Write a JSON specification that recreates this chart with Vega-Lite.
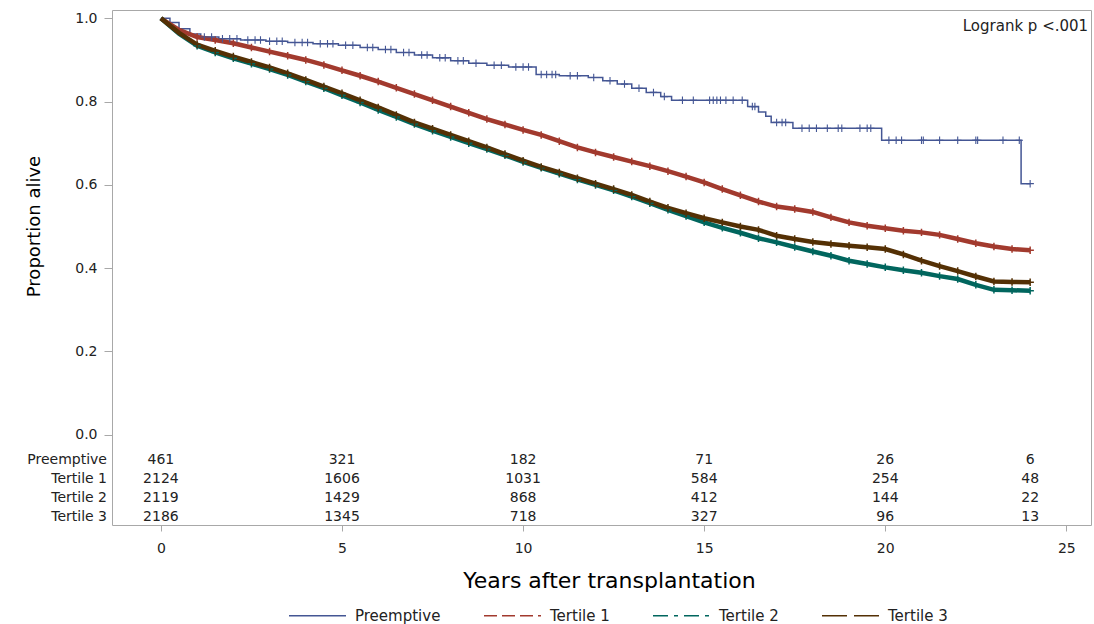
{
  "$schema": "https://vega.github.io/schema/vega-lite/v6.json",
  "autosize": {"type": "none"},
  "width": 979,
  "height": 515,
  "padding": {"left": 112, "top": 10, "right": 3, "bottom": 99},
  "background": "white",
  "config": {
    "font": "DejaVu Sans",
    "view": {"stroke": "#a8a8a8", "strokeWidth": 1},
    "axis": {"domain": false, "grid": false, "tickColor": "#a8a8a8", "labelColor": "#222", "labelFontSize": 14, "titleColor": "#000", "titleFontWeight": "normal"},
    "legend": {"labelFontSize": 15, "labelColor": "#222", "padding": 0, "orient": "none", "legendX": 176, "legendY": 576, "direction": "horizontal"}
  },
  "datasets": {
    "km": [
      {"group":"Preemptive","t":0,"s":1.0},{"group":"Preemptive","t":0.25,"s":0.99},{"group":"Preemptive","t":0.5,"s":0.975},{"group":"Preemptive","t":0.8,"s":0.962},
      {"group":"Preemptive","t":1.1,"s":0.955},{"group":"Preemptive","t":1.6,"s":0.951},{"group":"Preemptive","t":2.2,"s":0.948},{"group":"Preemptive","t":2.9,"s":0.945},
      {"group":"Preemptive","t":3.5,"s":0.942},{"group":"Preemptive","t":4.2,"s":0.939},{"group":"Preemptive","t":4.9,"s":0.935},{"group":"Preemptive","t":5.5,"s":0.93},
      {"group":"Preemptive","t":6.0,"s":0.925},{"group":"Preemptive","t":6.5,"s":0.918},{"group":"Preemptive","t":7.0,"s":0.912},{"group":"Preemptive","t":7.5,"s":0.905},
      {"group":"Preemptive","t":8.0,"s":0.898},{"group":"Preemptive","t":8.5,"s":0.892},{"group":"Preemptive","t":9.0,"s":0.887},{"group":"Preemptive","t":9.6,"s":0.883},
      {"group":"Preemptive","t":10.36,"s":0.865},{"group":"Preemptive","t":11.0,"s":0.862},{"group":"Preemptive","t":11.8,"s":0.858},{"group":"Preemptive","t":12.2,"s":0.85},
      {"group":"Preemptive","t":12.6,"s":0.842},{"group":"Preemptive","t":13.0,"s":0.832},{"group":"Preemptive","t":13.4,"s":0.822},{"group":"Preemptive","t":13.8,"s":0.812},
      {"group":"Preemptive","t":14.1,"s":0.803},{"group":"Preemptive","t":16.2,"s":0.788},{"group":"Preemptive","t":16.5,"s":0.775},{"group":"Preemptive","t":16.7,"s":0.765},
      {"group":"Preemptive","t":16.85,"s":0.75},{"group":"Preemptive","t":17.45,"s":0.736},{"group":"Preemptive","t":19.9,"s":0.707},{"group":"Preemptive","t":23.75,"s":0.603},
      {"group":"Preemptive","t":24.0,"s":0.603},

      {"group":"Tertile 1","t":0,"s":1.0},{"group":"Tertile 1","t":0.5,"s":0.972},{"group":"Tertile 1","t":1,"s":0.955},{"group":"Tertile 1","t":1.5,"s":0.948},
      {"group":"Tertile 1","t":2,"s":0.94},{"group":"Tertile 1","t":2.5,"s":0.93},{"group":"Tertile 1","t":3,"s":0.92},{"group":"Tertile 1","t":3.5,"s":0.91},
      {"group":"Tertile 1","t":4,"s":0.9},{"group":"Tertile 1","t":4.5,"s":0.888},{"group":"Tertile 1","t":5,"s":0.875},{"group":"Tertile 1","t":5.5,"s":0.862},
      {"group":"Tertile 1","t":6,"s":0.848},{"group":"Tertile 1","t":6.5,"s":0.833},{"group":"Tertile 1","t":7,"s":0.818},{"group":"Tertile 1","t":7.5,"s":0.803},
      {"group":"Tertile 1","t":8,"s":0.788},{"group":"Tertile 1","t":8.5,"s":0.773},{"group":"Tertile 1","t":9,"s":0.758},{"group":"Tertile 1","t":9.5,"s":0.745},
      {"group":"Tertile 1","t":10,"s":0.732},{"group":"Tertile 1","t":10.5,"s":0.72},{"group":"Tertile 1","t":11,"s":0.705},{"group":"Tertile 1","t":11.5,"s":0.69},
      {"group":"Tertile 1","t":12,"s":0.678},{"group":"Tertile 1","t":12.5,"s":0.667},{"group":"Tertile 1","t":13,"s":0.656},{"group":"Tertile 1","t":13.5,"s":0.645},
      {"group":"Tertile 1","t":14,"s":0.633},{"group":"Tertile 1","t":14.5,"s":0.62},{"group":"Tertile 1","t":15,"s":0.606},{"group":"Tertile 1","t":15.5,"s":0.59},
      {"group":"Tertile 1","t":16,"s":0.575},{"group":"Tertile 1","t":16.5,"s":0.56},{"group":"Tertile 1","t":17,"s":0.548},{"group":"Tertile 1","t":17.5,"s":0.542},
      {"group":"Tertile 1","t":18,"s":0.535},{"group":"Tertile 1","t":18.5,"s":0.522},{"group":"Tertile 1","t":19,"s":0.51},{"group":"Tertile 1","t":19.5,"s":0.502},
      {"group":"Tertile 1","t":20,"s":0.496},{"group":"Tertile 1","t":20.5,"s":0.49},{"group":"Tertile 1","t":21,"s":0.486},{"group":"Tertile 1","t":21.5,"s":0.48},
      {"group":"Tertile 1","t":22,"s":0.47},{"group":"Tertile 1","t":22.5,"s":0.46},{"group":"Tertile 1","t":23,"s":0.452},{"group":"Tertile 1","t":23.5,"s":0.446},
      {"group":"Tertile 1","t":24,"s":0.443},

      {"group":"Tertile 2","t":0,"s":1.0},{"group":"Tertile 2","t":0.5,"s":0.963},{"group":"Tertile 2","t":1,"s":0.934},{"group":"Tertile 2","t":1.5,"s":0.918},
      {"group":"Tertile 2","t":2,"s":0.904},{"group":"Tertile 2","t":2.5,"s":0.891},{"group":"Tertile 2","t":3,"s":0.878},{"group":"Tertile 2","t":3.5,"s":0.864},
      {"group":"Tertile 2","t":4,"s":0.848},{"group":"Tertile 2","t":4.5,"s":0.832},{"group":"Tertile 2","t":5,"s":0.815},{"group":"Tertile 2","t":5.5,"s":0.798},
      {"group":"Tertile 2","t":6,"s":0.78},{"group":"Tertile 2","t":6.5,"s":0.763},{"group":"Tertile 2","t":7,"s":0.746},{"group":"Tertile 2","t":7.5,"s":0.73},
      {"group":"Tertile 2","t":8,"s":0.715},{"group":"Tertile 2","t":8.5,"s":0.7},{"group":"Tertile 2","t":9,"s":0.686},{"group":"Tertile 2","t":9.5,"s":0.671},
      {"group":"Tertile 2","t":10,"s":0.655},{"group":"Tertile 2","t":10.5,"s":0.641},{"group":"Tertile 2","t":11,"s":0.627},{"group":"Tertile 2","t":11.5,"s":0.613},
      {"group":"Tertile 2","t":12,"s":0.6},{"group":"Tertile 2","t":12.5,"s":0.587},{"group":"Tertile 2","t":13,"s":0.572},{"group":"Tertile 2","t":13.5,"s":0.556},
      {"group":"Tertile 2","t":14,"s":0.54},{"group":"Tertile 2","t":14.5,"s":0.525},{"group":"Tertile 2","t":15,"s":0.51},{"group":"Tertile 2","t":15.5,"s":0.497},
      {"group":"Tertile 2","t":16,"s":0.485},{"group":"Tertile 2","t":16.5,"s":0.472},{"group":"Tertile 2","t":17,"s":0.462},{"group":"Tertile 2","t":17.5,"s":0.451},
      {"group":"Tertile 2","t":18,"s":0.44},{"group":"Tertile 2","t":18.5,"s":0.43},{"group":"Tertile 2","t":19,"s":0.418},{"group":"Tertile 2","t":19.5,"s":0.41},
      {"group":"Tertile 2","t":20,"s":0.402},{"group":"Tertile 2","t":20.5,"s":0.395},{"group":"Tertile 2","t":21,"s":0.389},{"group":"Tertile 2","t":21.5,"s":0.381},
      {"group":"Tertile 2","t":22,"s":0.374},{"group":"Tertile 2","t":22.5,"s":0.36},{"group":"Tertile 2","t":23,"s":0.348},{"group":"Tertile 2","t":23.5,"s":0.347},
      {"group":"Tertile 2","t":24,"s":0.346},

      {"group":"Tertile 3","t":0,"s":1.0},{"group":"Tertile 3","t":0.5,"s":0.965},{"group":"Tertile 3","t":1,"s":0.937},{"group":"Tertile 3","t":1.5,"s":0.922},
      {"group":"Tertile 3","t":2,"s":0.908},{"group":"Tertile 3","t":2.5,"s":0.895},{"group":"Tertile 3","t":3,"s":0.882},{"group":"Tertile 3","t":3.5,"s":0.868},
      {"group":"Tertile 3","t":4,"s":0.852},{"group":"Tertile 3","t":4.5,"s":0.836},{"group":"Tertile 3","t":5,"s":0.82},{"group":"Tertile 3","t":5.5,"s":0.803},
      {"group":"Tertile 3","t":6,"s":0.786},{"group":"Tertile 3","t":6.5,"s":0.768},{"group":"Tertile 3","t":7,"s":0.75},{"group":"Tertile 3","t":7.5,"s":0.735},
      {"group":"Tertile 3","t":8,"s":0.72},{"group":"Tertile 3","t":8.5,"s":0.705},{"group":"Tertile 3","t":9,"s":0.69},{"group":"Tertile 3","t":9.5,"s":0.674},
      {"group":"Tertile 3","t":10,"s":0.658},{"group":"Tertile 3","t":10.5,"s":0.643},{"group":"Tertile 3","t":11,"s":0.63},{"group":"Tertile 3","t":11.5,"s":0.616},
      {"group":"Tertile 3","t":12,"s":0.603},{"group":"Tertile 3","t":12.5,"s":0.59},{"group":"Tertile 3","t":13,"s":0.576},{"group":"Tertile 3","t":13.5,"s":0.56},
      {"group":"Tertile 3","t":14,"s":0.545},{"group":"Tertile 3","t":14.5,"s":0.532},{"group":"Tertile 3","t":15,"s":0.52},{"group":"Tertile 3","t":15.5,"s":0.51},
      {"group":"Tertile 3","t":16,"s":0.5},{"group":"Tertile 3","t":16.5,"s":0.492},{"group":"Tertile 3","t":17,"s":0.478},{"group":"Tertile 3","t":17.5,"s":0.47},
      {"group":"Tertile 3","t":18,"s":0.463},{"group":"Tertile 3","t":18.5,"s":0.458},{"group":"Tertile 3","t":19,"s":0.454},{"group":"Tertile 3","t":19.5,"s":0.45},
      {"group":"Tertile 3","t":20,"s":0.446},{"group":"Tertile 3","t":20.5,"s":0.433},{"group":"Tertile 3","t":21,"s":0.418},{"group":"Tertile 3","t":21.5,"s":0.405},
      {"group":"Tertile 3","t":22,"s":0.393},{"group":"Tertile 3","t":22.5,"s":0.38},{"group":"Tertile 3","t":23,"s":0.368},{"group":"Tertile 3","t":23.5,"s":0.367},
      {"group":"Tertile 3","t":24,"s":0.366}
    ],
    "censor": [
      {"t":1.2,"s":0.955},{"t":1.4,"s":0.955},{"t":1.7,"s":0.951},{"t":1.9,"s":0.951},{"t":2.1,"s":0.951},{"t":2.4,"s":0.948},{"t":2.6,"s":0.948},{"t":2.75,"s":0.948},
      {"t":3.0,"s":0.945},{"t":3.2,"s":0.945},{"t":3.35,"s":0.945},{"t":3.7,"s":0.942},{"t":3.9,"s":0.942},{"t":4.05,"s":0.942},{"t":4.4,"s":0.939},{"t":4.6,"s":0.939},
      {"t":4.75,"s":0.939},{"t":5.1,"s":0.935},{"t":5.3,"s":0.935},{"t":5.7,"s":0.93},{"t":5.85,"s":0.93},{"t":6.2,"s":0.925},{"t":6.35,"s":0.925},{"t":6.7,"s":0.918},
      {"t":6.85,"s":0.918},{"t":7.2,"s":0.912},{"t":7.35,"s":0.912},{"t":7.7,"s":0.905},{"t":7.85,"s":0.905},{"t":8.2,"s":0.898},{"t":8.35,"s":0.898},{"t":8.7,"s":0.892},
      {"t":9.2,"s":0.887},{"t":9.4,"s":0.887},{"t":9.8,"s":0.883},{"t":10.0,"s":0.883},{"t":10.15,"s":0.883},{"t":10.5,"s":0.865},{"t":10.65,"s":0.865},{"t":10.8,"s":0.865},
      {"t":10.9,"s":0.865},{"t":11.3,"s":0.862},{"t":11.5,"s":0.862},{"t":11.95,"s":0.858},{"t":12.4,"s":0.85},{"t":12.8,"s":0.842},{"t":13.2,"s":0.832},{"t":13.6,"s":0.822},
      {"t":13.9,"s":0.812},{"t":14.4,"s":0.803},{"t":14.7,"s":0.803},{"t":15.15,"s":0.803},{"t":15.25,"s":0.803},{"t":15.35,"s":0.803},{"t":15.45,"s":0.803},{"t":15.6,"s":0.803},
      {"t":15.8,"s":0.803},{"t":16.05,"s":0.803},{"t":16.33,"s":0.788},{"t":16.4,"s":0.788},{"t":17.0,"s":0.75},{"t":17.15,"s":0.75},{"t":17.25,"s":0.75},{"t":17.7,"s":0.736},
      {"t":17.9,"s":0.736},{"t":18.1,"s":0.736},{"t":18.4,"s":0.736},{"t":18.7,"s":0.736},{"t":18.8,"s":0.736},{"t":19.3,"s":0.736},{"t":19.5,"s":0.736},{"t":19.6,"s":0.736},
      {"t":20.1,"s":0.707},{"t":20.3,"s":0.707},{"t":20.45,"s":0.707},{"t":21.0,"s":0.707},{"t":21.05,"s":0.707},{"t":21.5,"s":0.707},{"t":22.0,"s":0.707},{"t":22.5,"s":0.707},
      {"t":22.55,"s":0.707},{"t":23.25,"s":0.707},{"t":23.7,"s":0.707},{"t":24.0,"s":0.603}
    ],
    "risk": [
      {"group":"Preemptive","t":0,"n":461},{"group":"Preemptive","t":5,"n":321},{"group":"Preemptive","t":10,"n":182},{"group":"Preemptive","t":15,"n":71},{"group":"Preemptive","t":20,"n":26},{"group":"Preemptive","t":24,"n":6},
      {"group":"Tertile 1","t":0,"n":2124},{"group":"Tertile 1","t":5,"n":1606},{"group":"Tertile 1","t":10,"n":1031},{"group":"Tertile 1","t":15,"n":584},{"group":"Tertile 1","t":20,"n":254},{"group":"Tertile 1","t":24,"n":48},
      {"group":"Tertile 2","t":0,"n":2119},{"group":"Tertile 2","t":5,"n":1429},{"group":"Tertile 2","t":10,"n":868},{"group":"Tertile 2","t":15,"n":412},{"group":"Tertile 2","t":20,"n":144},{"group":"Tertile 2","t":24,"n":22},
      {"group":"Tertile 3","t":0,"n":2186},{"group":"Tertile 3","t":5,"n":1345},{"group":"Tertile 3","t":10,"n":718},{"group":"Tertile 3","t":15,"n":327},{"group":"Tertile 3","t":20,"n":96},{"group":"Tertile 3","t":24,"n":13}
    ]
  },
  "layer": [
    {
      "layer": [
        {
          "data": {"name": "km"},
          "transform": [{"filter": "datum.group === 'Preemptive'"}],
          "mark": {"type": "line", "interpolate": "step-after", "strokeWidth": 1.5},
          "encoding": {
            "x": {"field": "t", "type": "quantitative", "scale": {"domain": [-1.35, 25.68], "nice": false, "zero": false},
                  "axis": {"values": [0, 5, 10, 15, 20, 25], "tickSize": 6, "labelPadding": 10, "title": "Years after transplantation",
                           "titleFontSize": 22, "titleBaseline": "alphabetic", "titleY": 62, "titleX": 497}},
            "y": {"field": "s", "type": "quantitative", "scale": {"domain": [-0.2166, 1.0199], "nice": false, "zero": false},
                  "axis": {"values": [0, 0.2, 0.4, 0.6, 0.8, 1.0], "format": ".1f", "tickSize": 8, "labelPadding": 7,
                           "title": "Proportion alive", "titleFontSize": 18, "titleX": -69, "titleY": 216}},
            "color": {"field": "group", "type": "nominal",
                      "scale": {"domain": ["Preemptive", "Tertile 1", "Tertile 2", "Tertile 3"], "range": ["#445694", "#A23A2E", "#01665E", "#543005"]},
                      "legend": {"title": null, "symbolType": "stroke", "symbolSize": 3249, "symbolStrokeWidth": 1.5, "labelOffset": 8, "columnPadding": 40}},
            "strokeDash": {"field": "group", "type": "nominal",
                           "scale": {"domain": ["Preemptive", "Tertile 1", "Tertile 2", "Tertile 3"], "range": [[1, 0], [13, 5], [15, 6, 4, 6], [25, 7]]},
                           "legend": {"title": null, "symbolType": "stroke", "symbolSize": 3249, "symbolStrokeWidth": 1.5, "labelOffset": 8, "columnPadding": 40}}
          }
        },
        {
          "data": {"name": "km"},
          "transform": [{"filter": "datum.group !== 'Preemptive'"}],
          "mark": {"type": "line", "interpolate": "linear", "strokeWidth": 4.5},
          "encoding": {
            "x": {"field": "t", "type": "quantitative"},
            "y": {"field": "s", "type": "quantitative"},
            "color": {"field": "group", "type": "nominal"}
          }
        },
        {
          "data": {"name": "km"},
          "transform": [{"filter": "datum.group !== 'Preemptive' && datum.t >= 1"}],
          "mark": {"type": "point", "shape": "M-1,0H1M0,-1V1", "filled": false, "size": 56, "strokeWidth": 1.5, "opacity": 1},
          "encoding": {
            "x": {"field": "t", "type": "quantitative"},
            "y": {"field": "s", "type": "quantitative"},
            "color": {"field": "group", "type": "nominal"}
          }
        },
        {
          "data": {"name": "censor"},
          "mark": {"type": "point", "shape": "M-1,0H1M0,-1V1", "filled": false, "size": 56, "strokeWidth": 1.1, "opacity": 1, "color": "#445694"},
          "encoding": {
            "x": {"field": "t", "type": "quantitative"},
            "y": {"field": "s", "type": "quantitative"}
          }
        },
        {
          "data": {"values": [{"note": "Logrank p  <.001"}]},
          "mark": {"type": "text", "align": "right", "baseline": "middle", "fontSize": 15, "color": "#222"},
          "encoding": {
            "x": {"datum": 25.6, "type": "quantitative"},
            "y": {"datum": 0.9815, "type": "quantitative"},
            "text": {"field": "note"}
          }
        }
      ]
    },
    {
      "data": {"name": "risk"},
      "layer": [
        {
          "mark": {"type": "text", "align": "center", "baseline": "middle", "fontSize": 14, "color": "#222"},
          "encoding": {
            "x": {"field": "t", "type": "quantitative"},
            "y": {"field": "group", "type": "nominal",
                  "scale": {"type": "point", "domain": ["Preemptive", "Tertile 1", "Tertile 2", "Tertile 3"], "range": [450, 506.7], "padding": 0},
                  "axis": null},
            "text": {"field": "n", "type": "quantitative", "format": "d"}
          }
        },
        {
          "transform": [{"filter": "datum.t === 0"}],
          "mark": {"type": "text", "align": "right", "baseline": "middle", "fontSize": 14, "color": "#222", "dx": -5},
          "encoding": {
            "x": {"datum": -1.35, "type": "quantitative"},
            "y": {"field": "group", "type": "nominal"},
            "text": {"field": "group"}
          }
        }
      ]
    }
  ],
  "resolve": {"scale": {"y": "independent"}}
}
